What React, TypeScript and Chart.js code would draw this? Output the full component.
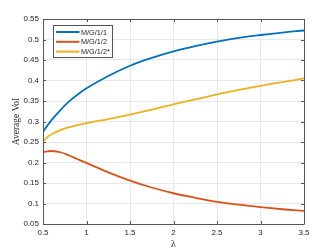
import React, { useEffect, useRef } from "react";
import { Chart, registerables } from "chart.js";

Chart.register(...registerables);

const lambdas = [0.5, 0.55, 0.6, 0.7, 0.8, 0.9, 1.0, 1.25, 1.5, 1.75, 2.0, 2.25, 2.5, 2.75, 3.0, 3.25, 3.5];
const mg11 = [0.275, 0.29, 0.304, 0.328, 0.349, 0.366, 0.381, 0.411, 0.436, 0.455, 0.471, 0.484, 0.495, 0.504, 0.511, 0.517, 0.522];
const mg12 = [0.225, 0.227, 0.228, 0.225, 0.217, 0.208, 0.199, 0.176, 0.156, 0.139, 0.125, 0.114, 0.104, 0.097, 0.091, 0.086, 0.082];
const mg12s = [0.251, 0.262, 0.269, 0.279, 0.286, 0.291, 0.296, 0.306, 0.317, 0.329, 0.342, 0.354, 0.366, 0.377, 0.387, 0.396, 0.405];
const seriesLabels = ["M/G/1/1", "M/G/1/2", "M/G/1/2*"];
const seriesColors = ["#0072BD", "#D95319", "#EDB120"];
const xTicks = [0.5, 1, 1.5, 2, 2.5, 3, 3.5];
const yTicks = [0.05, 0.1, 0.15, 0.2, 0.25, 0.3, 0.35, 0.4, 0.45, 0.5, 0.55];
const xTitle = "λ";
const yTitle = "Average VoI";

const fmt = (v: number) => String(Number(v.toFixed(2)));

const boxPlugin = {
  id: "matlabBox",
  afterDatasetsDraw(chart: any) {
    const { ctx, chartArea } = chart;
    const { left, right, top, bottom } = chartArea;
    const xs = chart.scales.x;
    const ys = chart.scales.y;
    ctx.save();
    ctx.strokeStyle = "#555555";
    ctx.lineWidth = 1;
    ctx.beginPath();
    ctx.rect(Math.round(left) + 0.5, Math.round(top) + 0.5, Math.round(right - left), Math.round(bottom - top));
    ctx.stroke();
    const tl = 3;
    ctx.beginPath();
    xTicks.forEach((v) => {
      const px = Math.round(xs.getPixelForValue(v)) + 0.5;
      ctx.moveTo(px, bottom);
      ctx.lineTo(px, bottom - tl);
      ctx.moveTo(px, top);
      ctx.lineTo(px, top + tl);
    });
    yTicks.forEach((v) => {
      const py = Math.round(ys.getPixelForValue(v)) + 0.5;
      ctx.moveTo(left, py);
      ctx.lineTo(left + tl, py);
      ctx.moveTo(right, py);
      ctx.lineTo(right - tl, py);
    });
    ctx.stroke();

    // legend
    const lx = left + 10.5;
    const ly = top + 6.5;
    const lw = 59;
    const lh = 32;
    ctx.fillStyle = "#ffffff";
    ctx.fillRect(lx, ly, lw, lh);
    ctx.strokeStyle = "#555555";
    ctx.lineWidth = 1;
    ctx.strokeRect(lx, ly, lw, lh);
    ctx.font = "7.3px 'Liberation Sans', Arial, sans-serif";
    ctx.textBaseline = "middle";
    ctx.textAlign = "left";
    chart.data.datasets.forEach((ds: any, i: number) => {
      const yy = ly + 6.5 + i * 9.8;
      ctx.strokeStyle = ds.borderColor;
      ctx.lineWidth = 2;
      ctx.beginPath();
      ctx.moveTo(lx + 2.5, yy);
      ctx.lineTo(lx + 26, yy);
      ctx.stroke();
      ctx.fillStyle = "#262626";
      ctx.fillText(ds.label, lx + 27.5, yy + 0.5);
    });
    ctx.restore();
  },
};

export default function App() {
  const ref = useRef<HTMLCanvasElement>(null);
  useEffect(() => {
    document.body.style.margin = "0";
    const canvas = ref.current;
    if (!canvas) return;
    const mk = (vals: number[], i: number) => ({
      label: seriesLabels[i],
      data: lambdas.map((x, k) => ({ x, y: vals[k] })),
      borderColor: seriesColors[i],
      backgroundColor: seriesColors[i],
      borderWidth: 1.8,
      pointRadius: 0,
      tension: 0.4,
      fill: false,
    });
    const chart = new Chart(canvas, {
      type: "line",
      data: { datasets: [mk(mg11, 0), mk(mg12, 1), mk(mg12s, 2)] },
      options: {
        responsive: false,
        animation: false,
        layout: { padding: { left: 0, right: 32, top: 19, bottom: 0 } },
        plugins: { legend: { display: false }, tooltip: { enabled: false } },
        scales: {
          x: {
            type: "linear",
            min: 0.5,
            max: 3.5,
            afterBuildTicks: (s: any) => {
              s.ticks = xTicks.map((v) => ({ value: v }));
            },
            afterFit: (s: any) => {
              s.height = 28;
            },
            grid: { color: "#e8e8e8", drawTicks: false, lineWidth: 1 },
            border: { display: false },
            ticks: {
              padding: 4,
              color: "#262626",
              font: { family: "'Liberation Sans', Arial, sans-serif", size: 8 },
              callback: (v: any) => fmt(Number(v)),
              maxRotation: 0,
            },
            title: {
              display: true,
              text: xTitle,
              color: "#262626",
              font: { family: "'Liberation Serif', 'Times New Roman', serif", size: 10 },
              padding: { top: 0, bottom: 2 },
            },
          },
          y: {
            type: "linear",
            min: 0.05,
            max: 0.55,
            afterBuildTicks: (s: any) => {
              s.ticks = yTicks.map((v) => ({ value: v }));
            },
            afterFit: (s: any) => {
              s.width = 43;
            },
            grid: { color: "#e8e8e8", drawTicks: false, lineWidth: 1 },
            border: { display: false },
            ticks: {
              padding: 4,
              color: "#262626",
              font: { family: "'Liberation Sans', Arial, sans-serif", size: 8 },
              callback: (v: any) => fmt(Number(v)),
            },
            title: {
              display: true,
              text: yTitle,
              color: "#262626",
              font: { family: "'Liberation Serif', 'Times New Roman', serif", size: 9.5 },
              padding: { top: 11, bottom: 0 },
            },
          },
        },
      },
      plugins: [boxPlugin],
    });
    return () => chart.destroy();
  }, []);
  return <canvas ref={ref} width={336} height={252} style={{ display: "block", width: 336, height: 252 }} />;
}
